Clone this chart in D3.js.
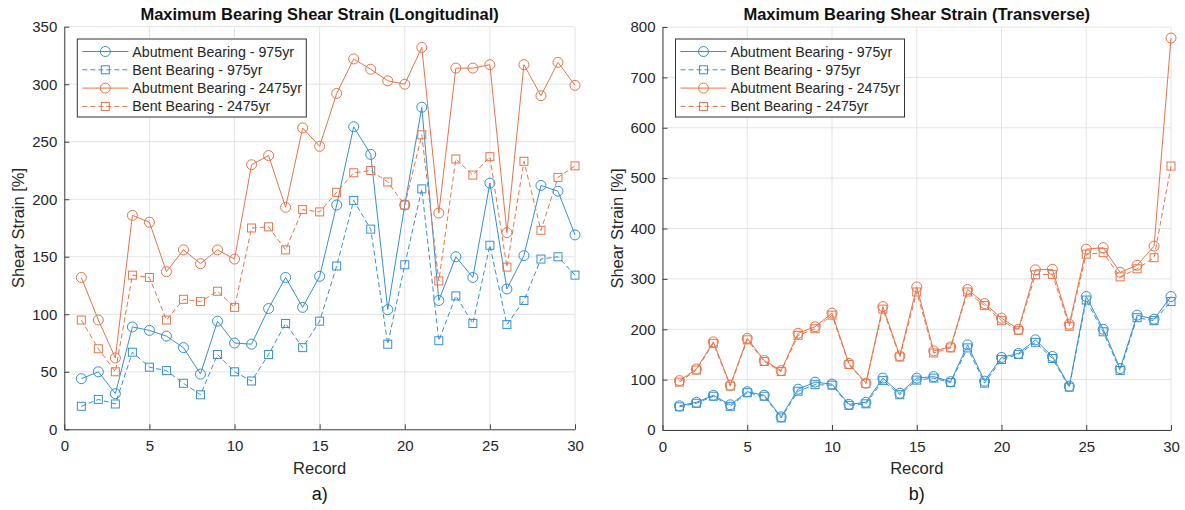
<!DOCTYPE html>
<html>
<head>
<meta charset="utf-8">
<script src="https://cdn.jsdelivr.net/npm/d3@7"></script>
<style>
  body { margin: 0; background: #fff; }
  svg { display: block; font-family: "Liberation Sans", Arial, sans-serif; }
</style>
</head>
<body>
<svg id="chart" width="1185" height="510"></svg>
<script>
// records 1..30
const records = d3.range(1, 31);

// Longitudinal
const abut975L  = [44, 50, 31, 89, 86, 81, 71, 48, 94, 75, 74, 105, 132, 106, 133, 195, 263, 239, 104, 195, 280, 112, 150, 132, 214, 122, 151, 212, 207, 169];
const bent975L  = [20, 26, 22, 67, 54, 51, 40, 30, 65, 50, 42, 65, 92, 71, 94, 142, 199, 174, 74, 143, 209, 77, 116, 92, 160, 91, 112, 148, 150, 134];
const abut2475L = [132, 95, 62, 186, 180, 137, 156, 144, 156, 148, 230, 238, 193, 262, 246, 292, 322, 313, 303, 300, 332, 188, 314, 314, 317, 171, 317, 290, 319, 299];
const bent2475L = [95, 70, 50, 134, 132, 95, 113, 111, 120, 106, 175, 176, 156, 191, 189, 206, 223, 225, 215, 195, 256, 129, 235, 221, 237, 141, 233, 173, 219, 229];

// Transverse
const abut975T  = [48, 55, 69, 50, 76, 69, 26, 81, 95, 91, 51, 55, 103, 73, 103, 106, 96, 169, 97, 144, 152, 179, 146, 87, 265, 200, 122, 228, 220, 265];
const bent975T  = [46, 53, 67, 47, 74, 67, 24, 77, 90, 89, 49, 52, 98, 70, 99, 103, 94, 163, 93, 140, 150, 174, 142, 85, 258, 195, 118, 223, 217, 255];
const abut2475T = [98, 121, 175, 89, 182, 138, 118, 192, 205, 232, 132, 93, 245, 147, 284, 157, 165, 279, 251, 222, 200, 318, 319, 210, 359, 362, 313, 327, 365, 778];
const bent2475T = [95, 119, 172, 87, 179, 136, 116, 188, 201, 228, 130, 92, 240, 145, 274, 153, 163, 274, 247, 217, 198, 308, 309, 206, 349, 352, 304, 320, 342, 524];

const seriesNames = ["Abutment Bearing - 975yr", "Bent Bearing - 975yr", "Abutment Bearing - 2475yr", "Bent Bearing - 2475yr"];
const xTicks = [0, 5, 10, 15, 20, 25, 30];
const yTicksL = [0, 50, 100, 150, 200, 250, 300, 350];
const yTicksT = [0, 100, 200, 300, 400, 500, 600, 700, 800];

const blue = "#3590d2";
const orange = "#e8744a";
const axisColor = "#404040";
const gridColor = "#e3e3e3";

const styles = [
    { color: blue, dash: null, marker: "circle" },
    { color: blue, dash: "5,3", marker: "square" },
    { color: orange, dash: null, marker: "circle" },
    { color: orange, dash: "5,3", marker: "square" },
];

const svg = d3.select("#chart");

function drawMarker(g, type, color, cx, cy) {
    if (type === "circle") {
        g.append("circle")
            .attr("cx", cx).attr("cy", cy).attr("r", 5)
            .attr("fill", "none").attr("stroke", color).attr("stroke-width", 1);
    } else {
        g.append("rect")
            .attr("x", cx - 4).attr("y", cy - 4)
            .attr("width", 8).attr("height", 8)
            .attr("fill", "none").attr("stroke", color).attr("stroke-width", 1);
    }
}

function panel({ left, right, top, bottom, yMax, yTicks, series, title, tag }) {
    const g = svg.append("g");

    const x = d3.scaleLinear().domain([0, 30]).range([left, right]);
    const y = d3.scaleLinear().domain([0, yMax]).range([bottom, top]);

    // grid
    g.append("g")
        .selectAll("line")
        .data(xTicks)
        .join("line")
        .attr("x1", d => x(d)).attr("x2", d => x(d))
        .attr("y1", top).attr("y2", bottom)
        .attr("stroke", gridColor).attr("stroke-width", 1);
    g.append("g")
        .selectAll("line")
        .data(yTicks)
        .join("line")
        .attr("y1", d => y(d)).attr("y2", d => y(d))
        .attr("x1", left).attr("x2", right)
        .attr("stroke", gridColor).attr("stroke-width", 1);

    // axes, ticks pointing inward
    const xAxis = d3.axisBottom(x).tickValues(xTicks).tickSizeInner(-5).tickSizeOuter(0).tickPadding(11);
    const yAxis = d3.axisLeft(y).tickValues(yTicks).tickSizeInner(-5).tickSizeOuter(0).tickPadding(7);

    const gx = g.append("g")
        .attr("transform", `translate(0,${bottom})`)
        .call(xAxis);
    const gy = g.append("g")
        .attr("transform", `translate(${left},0)`)
        .call(yAxis);
    [gx, gy].forEach(a => {
        a.select(".domain").attr("stroke", axisColor);
        a.selectAll(".tick line").attr("stroke", axisColor);
        a.selectAll(".tick text")
            .attr("fill", "#262626")
            .style("font-size", "15px");
    });

    // series
    const line = d3.line()
        .x((d, i) => x(records[i]))
        .y(d => y(d));

    series.forEach((vals, k) => {
        const st = styles[k];
        const sg = g.append("g");
        sg.append("path")
            .datum(vals)
            .attr("d", line)
            .attr("fill", "none")
            .attr("stroke", st.color)
            .attr("stroke-width", 1)
            .attr("stroke-dasharray", st.dash);
        vals.forEach((v, i) => drawMarker(sg, st.marker, st.color, x(records[i]), y(v)));
    });

    // legend
    const lx = left + 13, ly = 39;
    const lg = g.append("g");
    lg.append("rect")
        .attr("x", lx).attr("y", ly)
        .attr("width", 229).attr("height", 78)
        .attr("fill", "#fff").attr("stroke", "#333").attr("stroke-width", 1);
    seriesNames.forEach((name, k) => {
        const st = styles[k];
        const ry = ly + 12.5 + k * 18.3;
        lg.append("line")
            .attr("x1", lx + 5).attr("x2", lx + 51)
            .attr("y1", ry).attr("y2", ry)
            .attr("stroke", st.color).attr("stroke-width", 1)
            .attr("stroke-dasharray", st.dash);
        drawMarker(lg, st.marker, st.color, lx + 28, ry);
        lg.append("text")
            .attr("x", lx + 55).attr("y", ry + 5)
            .attr("fill", "#262626")
            .style("font-size", "14.2px")
            .text(name);
    });

    const cx = (left + right) / 2;
    g.append("text")
        .attr("x", cx).attr("y", 20)
        .attr("text-anchor", "middle")
        .attr("fill", "#111")
        .style("font-size", "16.5px").style("font-weight", "bold")
        .text(title);

    g.append("text")
        .attr("x", cx).attr("y", 474)
        .attr("text-anchor", "middle")
        .attr("fill", "#262626")
        .style("font-size", "16.5px")
        .text("Record");

    g.append("text")
        .attr("transform", `translate(${left - 40},${(top + bottom) / 2}) rotate(-90)`)
        .attr("text-anchor", "middle")
        .attr("fill", "#262626")
        .style("font-size", "16.5px")
        .text("Shear Strain [%]");

    g.append("text")
        .attr("x", cx).attr("y", 500)
        .attr("text-anchor", "middle")
        .attr("fill", "#111")
        .style("font-size", "18px")
        .text(tag);
}

panel({
    left: 64.3, right: 575, top: 26.7, bottom: 429.3,
    yMax: 350, yTicks: yTicksL,
    series: [abut975L, bent975L, abut2475L, bent2475L],
    title: "Maximum Bearing Shear Strain (Longitudinal)",
    tag: "a)"
});

panel({
    left: 662.5, right: 1171, top: 27, bottom: 430,
    yMax: 800, yTicks: yTicksT,
    series: [abut975T, bent975T, abut2475T, bent2475T],
    title: "Maximum Bearing Shear Strain (Transverse)",
    tag: "b)"
});
</script>
</body>
</html>
